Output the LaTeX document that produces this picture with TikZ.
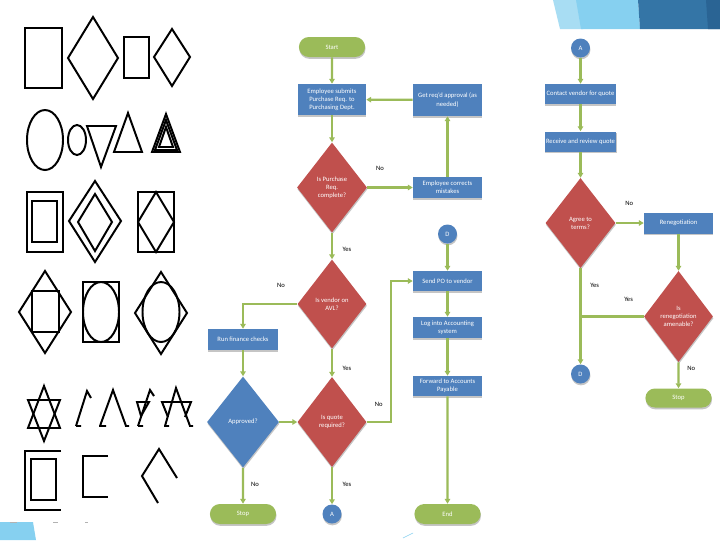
\documentclass[tikz,border=0pt]{standalone}
\usepackage{fontspec}
\setmainfont{Carlito}
\usetikzlibrary{arrows.meta, positioning, shapes.geometric, shapes.misc, shadows}
\definecolor{fgreen}{HTML}{9BBB59}
\definecolor{fblue}{HTML}{4F81BD}
\definecolor{fred}{HTML}{C0504D}
\definecolor{skyblue}{HTML}{86D0F0}
\definecolor{paleblue}{HTML}{A8DDF3}
\definecolor{deepblue}{HTML}{3475A6}
\definecolor{navyblue}{HTML}{2A6494}
\newcommand{\pxu}{0.025cm}

\begin{document}
\begin{tikzpicture}[x=0.025cm, y=-0.025cm,
  every node/.style={font=\fontsize{4.7}{5.8}\selectfont},
  shd/.style={drop shadow={shadow xshift=0.3pt, shadow yshift=-1.3pt, fill=black!45, opacity=.5}},
  bx/.style={shd, fill=fblue, text=white, minimum width=69*\pxu, minimum height=21*\pxu, align=center, inner sep=1pt},
  dm/.style={shd, diamond, fill=fred, text=white, minimum width=70*\pxu, minimum height=90*\pxu, inner sep=0pt, align=center},
  tm/.style={shd, rounded rectangle, fill=fgreen, text=white, minimum width=69*\pxu, minimum height=20*\pxu, inner sep=1pt},
  cn/.style={shd, circle, fill=fblue, text=white, minimum size=19*\pxu, inner sep=0pt},
  a/.style={-{Triangle[length=3.4pt, width=3.8pt]}, draw=fgreen, line width=1.6pt},
  ln/.style={draw=fgreen, line width=1.6pt},
  al/.style={text=black, inner sep=1pt},
  art/.style={line width=1.4pt, line join=miter}]
\useasboundingbox (0,0) rectangle (720,540);
\fill[white] (0,0) rectangle (720,540);
% slide decoration
\fill[paleblue] (553,0) -- (578,0) -- (583,29) -- (560,29) -- cycle;
\fill[skyblue] (576,0) -- (638,0) -- (640,29) -- (581,29) -- cycle;
\fill[deepblue] (638,0) -- (720,0) -- (720,29) -- (640,29) -- cycle;
\fill[navyblue] (706,0) -- (720,0) -- (720,29) -- (708,29) -- cycle;
\fill[skyblue] (0,522) -- (33,522) -- (36,540) -- (0,540) -- cycle;
\draw[skyblue, line width=0.4pt] (403,538) -- (413,533);
% shape drawings
\draw[art] (25,28) rectangle (62,88);
\draw[art] (93,17) -- (118,58) -- (93,99) -- (68,58) -- cycle;
\draw[art] (124,37) rectangle (149,78);
\draw[art] (172,29) -- (190,57) -- (172,86) -- (154,57) -- cycle;
\draw[art] (45,140) ellipse [x radius=18, y radius=30];
\draw[art] (77,140) ellipse [x radius=9, y radius=15];
\draw[art] (87,126) -- (116,126) -- (101,167) -- cycle;
\draw[art] (128,113) -- (142,152) -- (114,152) -- cycle;
\draw[art] (166,114) -- (180,152) -- (152,152) -- cycle;
\draw[art] (166,120) -- (177,150) -- (155,150) -- cycle;
\draw[art] (166,127) -- (173,147) -- (159,147) -- cycle;
\draw[art] (27,192) rectangle (63,252);
\draw[art] (32,201) rectangle (57,242);
\draw[art] (95,181) -- (121,221) -- (95,262) -- (69,221) -- cycle;
\draw[art] (95,194) -- (112,222) -- (95,251) -- (78,222) -- cycle;
\draw[art] (138,192) rectangle (174,252);
\draw[art] (156,192) -- (174,222) -- (156,252) -- (138,222) -- cycle;
\draw[art] (45,271) -- (71,312) -- (45,353) -- (19,312) -- cycle;
\draw[art] (32,291) rectangle (59,332);
\draw[art] (83,282) rectangle (119,342);
\draw[art] (101,312) ellipse [x radius=18, y radius=30];
\draw[art] (161,272) -- (187,313) -- (161,354) -- (135,313) -- cycle;
\draw[art] (161,312) ellipse [x radius=18.5, y radius=30];
\draw[art] (44,386) -- (60,428) -- (28,428) -- cycle;
\draw[art] (28,400) -- (60,400) -- (44,441) -- cycle;
\draw[art] (76,426) -- (81,426) (76,426) -- (87,391) -- (91,398);
\draw[art] (99,426) -- (106,426) (100,426) -- (113,390) -- (126,426) -- (129,426);
\draw[art] (137,402) -- (149,402) -- (141,416) -- cycle;
\draw[art] (138,426) -- (143,426) (138,426) -- (150,390) -- (154,396);
\draw[art] (164,426) -- (169,426) (165,426) -- (176,388) -- (190,426) -- (193,426);
\draw[art] (168,417) -- (162,402) -- (191,402) -- (185,417);
\draw[art] (61,451) -- (25,451) -- (25,510) -- (61,510);
\draw[art] (31,459) rectangle (56,500);
\draw[art] (108,456) -- (83,456) -- (83,497) -- (108,497);
\draw[art] (177,478) -- (159,449) -- (142,476) -- (158,503);
\draw[gray!60, line width=0.6pt] (10,522) -- (17,522) (53,522) -- (58,522) (85,522) -- (88,522);
% purchase requisition flow
\node[tm] (st) at (332,47) {Start};
\node[bx, minimum width=68*\pxu, minimum height=31*\pxu] (es) at (332,99.5) {Employee submits\\Purchase Req. to\\Purchasing Dept.};
\node[bx, minimum height=32*\pxu] (ga) at (447.5,100) {Get req'd approval (as\\needed)};
\node[dm] (d1) at (332,187.5) {Is Purchase\\Req.\\complete?};
\node[bx] (ec) at (447.5,187.5) {Employee corrects\\mistakes};
\node[dm, minimum width=69*\pxu, minimum height=89*\pxu] (d2) at (332,304) {Is vendor on\\AVL?};
\node[bx, minimum width=70*\pxu] (rf) at (243,339.5) {Run finance checks};
\node[dm, fill=fblue, minimum width=72*\pxu, minimum height=91*\pxu] (ap) at (243,422) {Approved?};
\node[dm, minimum width=69*\pxu] (d3) at (332,422) {Is quote\\required?};
\node[tm] (sp) at (243,514) {Stop};
\node[cn] (ca) at (332,514) {A};
\node[cn] (cd) at (447.5,234) {D};
\node[bx, minimum height=20*\pxu] (po) at (447.5,281) {Send PO to vendor};
\node[bx] (lg) at (447.5,327.5) {Log into Accounting\\system};
\node[bx, minimum height=20*\pxu] (fw) at (447.5,386) {Forward to Accounts\\Payable};
\node[tm] (en) at (447.5,514) {End};
\draw[a] (st) -- (es);
\draw[a] (ga) -- (es);
\draw[a] (es) -- (d1);
\draw[a] (d1) -- node[al,pos=0.28,yshift=13.5pt]{No} (ec);
\draw[a] (ec) -- (ga);
\draw[a] (d1) -- node[al,pos=0.64,xshift=10.6pt]{Yes} (d2);
\draw[a] (d2.west) -| node[al,pos=0.15,yshift=13.5pt]{No} (rf.north);
\draw[a] (rf) -- (ap);
\draw[a] (ap) -- (d3);
\draw[a] (d2) -- node[al,pos=0.69,xshift=10.6pt]{Yes} (d3);
\draw[a] (ap) -- node[al,pos=0.45,xshift=8.5pt]{No} (sp);
\draw[a] (d3) -- node[al,pos=0.46,xshift=10.6pt]{Yes} (ca);
\draw[a] (d3.east) -- node[al,yshift=12.8pt]{No} ++(24,0) |- (po.west);
\draw[a] (cd) -- (po);
\draw[a] (po) -- (lg);
\draw[a] (lg) -- (fw);
\draw[a] (fw) -- (en);
% quote flow
\node[cn] (ra) at (580.5,48) {A};
\node[bx, minimum width=71*\pxu, minimum height=20*\pxu] (cv) at (580.5,94) {Contact vendor for quote};
\node[bx, minimum width=71*\pxu, minimum height=20*\pxu] (rr) at (580.5,141.5) {Receive and review quote};
\node[dm] (d4) at (580.5,223) {Agree to\\terms?};
\node[bx] (rn) at (678.5,223) {Renegotiation};
\node[dm, minimum width=69*\pxu, minimum height=91*\pxu] (d5) at (678.5,316.5) {Is\\renegotiation\\amenable?};
\node[cn] (rd) at (580.5,374) {D};
\node[tm, minimum height=19*\pxu] (sr) at (678.5,398) {Stop};
\draw[a] (ra) -- (cv);
\draw[a] (cv) -- (rr);
\draw[a] (rr) -- (d4);
\draw[a] (d4) -- node[al,pos=0.48,yshift=14pt]{No} (rn);
\draw[a] (rn) -- (d5);
\draw[a] (d4) -- node[al,pos=0.18,xshift=10pt]{Yes} (rd);
\draw[ln] (d5.west) -- node[al,pos=0.24,yshift=12pt]{Yes} (d5.west -| d4.south);
\draw[a] (d5) -- node[al,pos=0.23,xshift=9pt]{No} (sr);
\end{tikzpicture}
\end{document}
